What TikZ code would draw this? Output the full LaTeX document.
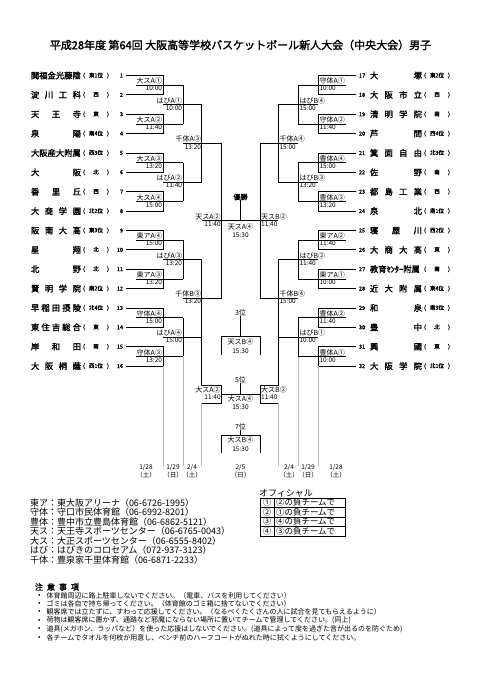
\documentclass[tikz,border=0pt]{standalone}
\usepackage{fontspec}
\newfontfamily\jp{Noto Sans CJK JP}
\newfontfamily\jpb{Noto Sans CJK JP}[FakeBold=1.8]
\newcommand\myfs[1]{\fontsize{#1}{#1}\selectfont}
\begin{document}
\begin{tikzpicture}[x=1pt,y=-1pt,
  br/.style={line width=0.75pt},
  gl/.style={line width=0.6pt,gray!55},
  txt/.style={inner sep=0pt,outer sep=0pt},
  lab/.style={txt,font=\jp\myfs{7}},
  tim/.style={txt,font=\jp\myfs{6.5}},
  tnm/.style={txt,font=\jpb\myfs{8.3},anchor=west},
  tsub/.style={txt,font=\jpb\myfs{5.5},anchor=west},
  tnum/.style={txt,font=\jpb\myfs{5.5}},
  dat/.style={txt,font=\jp\myfs{6.5},align=center},
  ven/.style={txt,font=\jp\myfs{9},anchor=west},
  note/.style={txt,font=\jp\myfs{7},anchor=west}
]
\useasboundingbox (0,0) rectangle (481,680);
\fill[white] (0,0) rectangle (481,680);

% title
\node[txt,font=\jpb\myfs{11}] (title) at (240.5,45) {平成28年度 第64回 大阪高等学校バスケットボール新人大会（中央大会）男子};

% left teams
\foreach \i/\nm/\sb in {
 1/{関福金光藤陰}/{東1位},
 2/{淀\hfill 川\hfill 工\hfill 科}/{西},
 3/{天\hfill 王\hfill 寺}/{東},
 4/{泉\hfill 陽}/{南4位},
 5/{大阪産大附属}/{西3位},
 6/{大\hfill 阪}/{北},
 7/{香\hfill 里\hfill 丘}/{西},
 8/{大\hfill 商\hfill 学\hfill 園}/{北2位},
 9/{阪\hfill 南\hfill 大\hfill 高}/{東3位},
 10/{星\hfill 翔}/{北},
 11/{北\hfill 野}/{北},
 12/{賢\hfill 明\hfill 学\hfill 院}/{南2位},
 13/{早\hfill 稲\hfill 田\hfill 摂\hfill 陵}/{北4位},
 14/{東\hfill 住\hfill 吉\hfill 総\hfill 合}/{東},
 15/{岸\hfill 和\hfill 田}/{南},
 16/{大\hfill 阪\hfill 桐\hfill 蔭}/{西1位}}{
  \pgfmathsetmacro\yy{75.5+(\i-1)*19.37}
  \node[tnm] (tl\i) at (31,\yy) {\makebox[50pt][l]{\nm}};
  \node[tsub] (sl\i) at (83,\yy) {\makebox[26pt][l]{(\hfill\sb\hfill)}};
  \node[tnum,anchor=east] (nl\i) at (123,\yy) {\i};
}

% right teams
\foreach \i/\nm/\sb in {
 17/{大\hfill 塚}/{東2位},
 18/{大\hfill 阪\hfill 市\hfill 立}/{西},
 19/{清\hfill 明\hfill 学\hfill 院}/{南},
 20/{芦\hfill 間}/{西4位},
 21/{箕\hfill 面\hfill 自\hfill 由}/{北3位},
 22/{佐\hfill 野}/{南},
 23/{都\hfill 島\hfill 工\hfill 業}/{西},
 24/{泉\hfill 北}/{南1位},
 25/{寝\hfill 屋\hfill 川}/{西2位},
 26/{大\hfill 商\hfill 大\hfill 高}/{東},
 27/{教育ｾﾝﾀｰ附属}/{南},
 28/{近\hfill 大\hfill 附\hfill 属}/{東4位},
 29/{和\hfill 泉}/{南3位},
 30/{豊\hfill 中}/{北},
 31/{興\hfill 國}/{東},
 32/{大\hfill 阪\hfill 学\hfill 院}/{北1位}}{
  \pgfmathsetmacro\yy{75.5+(\i-17)*19.37}
  \node[tnum,anchor=west] (nr\i) at (359,\yy) {\i};
  \node[tnm] (tr\i) at (370,\yy) {\makebox[52pt][l]{\nm}};
  \node[tsub] (sr\i) at (424,\yy) {\makebox[26pt][l]{(\hfill\sb\hfill)}};
}

% ---------- left bracket ----------
\foreach \k/\la/\ti in {1/大スA①/10:00,2/大スA②/11:40,3/大スA③/13:20,4/大スA④/15:00,
  5/東アA④/15:00,6/東アA③/13:20,7/守体A④/15:00,8/守体A③/13:20}{
  \pgfmathsetmacro\ya{75.5+(2*\k-2)*19.37}
  \pgfmathsetmacro\yb{75.5+(2*\k-1)*19.37}
  \pgfmathsetmacro\ym{(\ya+\yb)/2}
  \draw[br] (126,\ya) -| (163,\yb) -- (126,\yb);
  \draw[br] (136,\ym) -- (183,\ym);
  \node[lab,anchor=south east] (la\k) at (162,\ym-0.7) {\la};
  \node[tim,anchor=north east] (lt\k) at (162,\ym+1) {\ti};
}
\foreach \k/\la/\ti in {1/はびA①/10:00,2/はびA②/11:40,3/はびA③/13:20,4/はびA④/15:00}{
  \pgfmathsetmacro\ya{75.5+(4*\k-3.5)*19.37}
  \pgfmathsetmacro\yb{75.5+(4*\k-1.5)*19.37}
  \pgfmathsetmacro\ym{(\ya+\yb)/2}
  \draw[br] (183,\ya) -- (183,\yb);
  \draw[br] (163,\ym) -- (201.7,\ym);
  \node[lab,anchor=south east] (lb\k) at (182,\ym-0.7) {\la};
  \node[tim,anchor=north east] (lbt\k) at (182,\ym+1) {\ti};
}
\foreach \k/\la/\ti in {1/千体A③/13:20,2/千体B③/13:20}{
  \pgfmathsetmacro\ya{75.5+(8*\k-6.5)*19.37}
  \pgfmathsetmacro\yb{75.5+(8*\k-2.5)*19.37}
  \pgfmathsetmacro\ym{(\ya+\yb)/2}
  \draw[br] (201.7,\ya) -- (201.7,\yb);
  \draw[br] (183,\ym) -- (221.7,\ym);
  \node[lab,anchor=south east] (lc\k) at (201,\ym-0.7) {\la};
  \node[tim,anchor=north east] (lct\k) at (201,\ym+1) {\ti};
}
% ---------- right bracket ----------
\foreach \k/\la/\ti in {1/守体A①/10:00,2/守体A②/11:40,3/豊体A④/15:00,4/豊体A③/13:20,
  5/東アA②/11:40,6/東アA①/10:00,7/豊体A②/11:40,8/豊体A①/10:00}{
  \pgfmathsetmacro\ya{75.5+(2*\k-2)*19.37}
  \pgfmathsetmacro\yb{75.5+(2*\k-1)*19.37}
  \pgfmathsetmacro\ym{(\ya+\yb)/2}
  \draw[br] (356,\ya) -| (318.3,\yb) -- (356,\yb);
  \draw[br] (346,\ym) -- (298.3,\ym);
  \node[lab,anchor=south west] (ra\k) at (319.5,\ym-0.7) {\la};
  \node[tim,anchor=north west] (rt\k) at (319.5,\ym+1) {\ti};
}
\foreach \k/\la/\ti in {1/はびB④/15:00,2/はびB③/13:20,3/はびB②/11:40,4/はびB①/10:00}{
  \pgfmathsetmacro\ya{75.5+(4*\k-3.5)*19.37}
  \pgfmathsetmacro\yb{75.5+(4*\k-1.5)*19.37}
  \pgfmathsetmacro\ym{(\ya+\yb)/2}
  \draw[br] (298.3,\ya) -- (298.3,\yb);
  \draw[br] (318.3,\ym) -- (278.3,\ym);
  \node[lab,anchor=south west] (rb\k) at (299.5,\ym-0.7) {\la};
  \node[tim,anchor=north west] (rbt\k) at (299.5,\ym+1) {\ti};
}
\foreach \k/\la/\ti in {1/千体A④/15:00,2/千体B④/15:00}{
  \pgfmathsetmacro\ya{75.5+(8*\k-6.5)*19.37}
  \pgfmathsetmacro\yb{75.5+(8*\k-2.5)*19.37}
  \pgfmathsetmacro\ym{(\ya+\yb)/2}
  \draw[br] (278.3,\ya) -- (278.3,\yb);
  \draw[br] (298.3,\ym) -- (260,\ym);
  \node[lab,anchor=south west] (rc\k) at (279.5,\ym-0.7) {\la};
  \node[tim,anchor=north west] (rct\k) at (279.5,\ym+1) {\ti};
}

% ---------- semifinals & final ----------
\pgfmathsetmacro\ysa{75.5+3.5*19.37}
\pgfmathsetmacro\ysb{75.5+11.5*19.37}
\pgfmathsetmacro\yf{75.5+7.5*19.37}
\coordinate (sfl) at (221.7,\yf);
\coordinate (sfr) at (260,\yf);
\draw[br] (221.7,\ysa) -- (221.7,\ysb);
\draw[br] (260,\ysa) -- (260,\ysb);
\draw[br] (201.7,\yf) -- (278.3,\yf);
\node[lab,anchor=south east] (sfla) at (220.7,\yf-0.7) {天スA②};
\node[tim,anchor=north east] (sflt) at (220.7,\yf+1) {11:40};
\node[lab,anchor=south west] (sfra) at (261.2,\yf-0.7) {天スB②};
\node[tim,anchor=north west] (sfrt) at (261.2,\yf+1) {11:40};
\node[lab,font=\jpb\myfs{7}] (win) at (240.5,197) {優勝};
\draw[br] (win.south) -- (240.5,\yf);
\node[lab,anchor=north] (fa) at (240.5,\yf+2.5) {天スA④};
\node[tim,anchor=north] (ft) at (240.5,\yf+12.5) {15:30};

% ---------- 3rd place ----------
\node[lab] (p3) at (240.5,313) {3位};
\draw[br] (p3.south) -- (240.5,336.7);
\draw[br] (221.7,355) |- (260,336.7) -- (260,355);
\node[lab,anchor=north] (p3a) at (240.5,338.5) {天スB④};
\node[tim,anchor=north] (p3t) at (240.5,348.5) {15:30};

% ---------- 5th place ----------
\draw[br] (201.7,336.3) -- (201.7,385) -| (221.7,403.3) -- (201.7,403.3);
\draw[br] (278.3,336.3) -- (278.3,385) -| (260,403.3) -- (278.3,403.3);
\draw[br] (221.7,394) -- (260,394);
\node[lab,anchor=south east] (q5l) at (220.7,393.3) {大スA②};
\node[tim,anchor=north east] (q5lt) at (220.7,395) {11:40};
\node[lab,anchor=south west] (q5r) at (261.2,393.3) {大スB②};
\node[tim,anchor=north west] (q5rt) at (261.2,395) {11:40};
\node[lab] (p5) at (240.5,380) {5位};
\draw[br] (p5.south) -- (240.5,394);
\node[lab,anchor=north] (p5a) at (240.5,396) {大スA④};
\node[tim,anchor=north] (p5t) at (240.5,405) {15:30};

% ---------- 7th place ----------
\node[lab] (p7) at (240.5,427) {7位};
\draw[br] (p7.south) -- (240.5,435);
\draw[br] (221.7,453.3) |- (260,435) -- (260,453.3);
\node[lab,anchor=north] (p7a) at (240.5,437) {大スB④};
\node[tim,anchor=north] (p7t) at (240.5,447) {15:30};

% ---------- gray guide lines ----------
\draw[gl] (163,366) -- (163,466);
\draw[gl] (183,356.5) -- (183,466);
\draw[gl] (201.7,403.3) -- (201.7,466);
\draw[gl] (318.3,366) -- (318.3,466);
\draw[gl] (298.3,356.5) -- (298.3,466);
\draw[gl] (278.3,403.3) -- (278.3,466);

% ---------- dates ----------
\foreach \n/\x/\d/\w in {d1/146/1\slash 28/土,d2/173/1\slash 29/日,d3/192/2\slash 4/土,d4/240.5/2\slash 5/日,
  d5/289/2\slash 4/土,d6/308/1\slash 29/日,d7/336/1\slash 28/土}{
  \node[dat] (\n) at (\x,471) {\d\\（\w）};
}

% ---------- venues ----------
\foreach \j/\t in {0/東ア：東大阪アリーナ（06-6726-1995）,1/守体：守口市民体育館（06-6992-8201）,
  2/豊体：豊中市立豊島体育館（06-6862-5121）,3/天ス：天王寺スポーツセンター（06-6765-0043）,
  4/大ス：大正スポーツセンター（06-6555-8402）,5/はび：はびきのコロセアム（072-937-3123）,
  6/千体：豊泉家千里体育館（06-6871-2233）}{
  \node[ven] (v\j) at (30,503+\j*9.5) {\t};
}

% ---------- officials ----------
\node[ven] (off) at (259,493) {オフィシャル};
\draw[line width=0.6pt] (260,498) rectangle (345,536);
\foreach \r in {1,2,3}{\draw[line width=0.5pt] (260,498+\r*9.5) -- (345,498+\r*9.5);}
\draw[line width=0.5pt] (274,498) -- (274,536);
\foreach \r/\a/\b in {0/①/②,1/②/①,2/③/④,3/④/③}{
  \node[txt,font=\jp\myfs{8.5}] (oa\r) at (267,502.75+\r*9.5) {\a};
  \node[txt,font=\jp\myfs{8.5},anchor=west] (ob\r) at (276,502.75+\r*9.5) {\b の負チームで};
}

% ---------- notes ----------
\node[txt,font=\jpb\myfs{8},anchor=west] (nh) at (35,587) {注\hspace{4pt}意\hspace{4pt}事\hspace{4pt}項};
\foreach \j/\t in {0/体育館周辺に路上駐車しないでください。（電車、バスを利用してください）,
  1/ゴミは各自で持ち帰ってください。（体育館のゴミ箱に捨てないでください）,
  2/観客席では立たずに、すわって応援してください。（なるべくたくさんの人に試合を見てもらえるように）,
  3/荷物は観客席に置かず、通路など邪魔にならない場所に置いてチームで管理してください。(同上),
  4/道具(メガホン、ラッパなど）を使った応援はしないでください。(道具によって度を過ぎた音が出るのを防ぐため),
  5/各チームでタオルを何枚か用意し、ベンチ前のハーフコートがぬれた時に拭くようにしてください。}{
  \node[note] (nb\j) at (38,595.5+\j*8.4) {•};
  \node[note] (nt\j) at (46.5,595.5+\j*8.4) {\t};
}
\end{tikzpicture}
\end{document}
